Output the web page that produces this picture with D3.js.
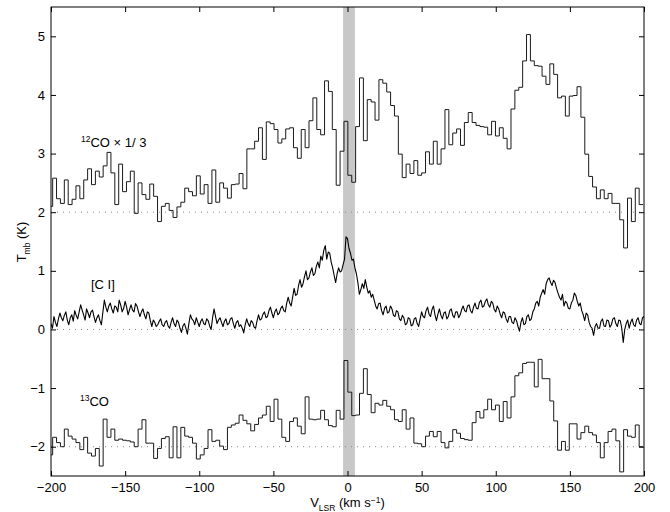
<!DOCTYPE html>
<html>
<head>
<meta charset="utf-8">
<script src="https://cdn.jsdelivr.net/npm/d3@7"></script>
<style>
  body { margin: 0; background: #fff; }
  svg text { font-family: "Liberation Sans", Arial, Helvetica, sans-serif; }
</style>
</head>
<body>
<div id="chart"></div>
<script>
"use strict";

// channel grid of the two CO spectra (km/s)
var coStart = -201.5;
var coStep = 2.62;

// 12CO x 1/3, shifted up by 2 K
var co12 = [2.1, 2.58, 2.23, 2.15, 2.55, 2.13, 2.22, 2.45, 2.23, 2.55,
  2.74, 2.47, 2.7, 2.6, 2.79, 3.02, 2.67, 2.13, 2.82, 2.35,
  2.52, 2.7, 1.98, 2.5, 2.3, 2.22, 2.48, 2.27, 1.84, 2.1,
  2.15, 2.03, 1.91, 2.09, 2.17, 2.41, 2.35, 2.28, 2.62, 2.31,
  2.47, 2.15, 2.72, 2.17, 2.5, 2.41, 2.24, 2.47, 2.48, 2.66,
  2.4, 3.08, 3.08, 3.21, 3.44, 2.9, 3.54, 3.51, 3.41, 3.18,
  3.25, 3.42, 3.44, 3.1, 2.92, 3.41, 3.1, 3.56, 3.95, 3.41,
  3.32, 4.24, 4.06, 3.41, 2.46, 3.04, 3.55, 2.63, 2.51, 3.46,
  4.29, 3.22, 3.92, 3.88, 3.57, 4.26, 4.2, 4.05, 3.82, 3.64,
  2.99, 2.59, 2.82, 2.66, 2.88, 2.63, 2.67, 3.03, 2.82, 3.21,
  2.82, 3.08, 3.75, 3.15, 3.35, 3.42, 3.14, 3.53, 3.7, 3.53,
  3.48, 3.46, 3.45, 3.32, 3.55, 3.3, 3.44, 3.26, 3.08, 3.76,
  4.08, 4.13, 4.58, 5.03, 4.58, 4.5, 4.49, 4.32, 4.18, 4.53,
  4.35, 3.95, 3.98, 3.64, 3.98, 3.99, 4.14, 3.62, 2.99, 2.61,
  2.43, 2.23, 2.38, 2.23, 2.32, 2.15, 2.15, 1.87, 1.39, 2.24,
  1.84, 2.41, 2.13];

// 13CO, shifted down by 2 K
var co13 = [-2.14, -1.84, -1.93, -2.0, -1.7, -1.82, -1.87, -1.93, -2.05, -1.84,
  -2.11, -2.16, -2.03, -2.33, -1.53, -1.84, -1.7, -1.89, -1.87, -1.89,
  -1.9, -1.92, -2.0, -1.7, -1.54, -1.94, -1.94, -2.2, -2.03, -1.86,
  -1.83, -2.19, -1.66, -2.19, -1.67, -1.82, -1.84, -1.94, -2.21, -2.14,
  -2.03, -1.71, -1.91, -1.89, -1.99, -2.05, -1.67, -1.63, -1.6, -1.46,
  -1.55, -1.61, -1.73, -1.62, -1.51, -1.46, -1.31, -1.57, -1.19, -1.53,
  -1.84, -1.91, -1.57, -1.51, -1.65, -1.78, -1.15, -1.53, -1.54, -1.53,
  -1.38, -1.54, -1.64, -1.66, -1.38, -1.53, -0.53,
  -1.07, -1.47, -1.46, -1.09, -0.67, -1.11, -1.42, -1.26, -1.29, -1.21,
  -1.31, -1.37, -1.54, -1.57, -1.37, -1.70, -1.51, -1.94, -1.95, -2.0,
  -1.82, -1.74, -1.83, -1.74, -1.93, -2.02, -1.91, -1.71, -1.77, -1.86,
  -1.88, -1.89, -1.59, -1.4, -1.51, -1.37, -1.19, -1.37, -1.29, -1.57,
  -1.23, -1.51, -1.15, -0.79, -0.74, -0.58, -0.56, -0.56, -0.98, -0.51,
  -0.84, -0.84, -1.22, -1.56, -2.06, -1.91, -2.06, -1.61, -1.61, -1.87,
  -1.76, -1.65, -1.76, -1.8, -1.93, -2.19, -1.93, -1.74, -1.7, -1.9,
  -2.43, -1.71, -1.82, -1.84, -1.63, -2.0];

// [C I], one value per km/s from -200 to 200
var ciStart = -200;
var ciStep = 1;
var ci = [
  0.10, 0.02, 0.22, 0.12, 0.05, 0.18, 0.28, 0.20, 0.15, 0.24,
  0.30, 0.16, 0.08, 0.20, 0.25, 0.14, 0.32, 0.24, 0.18, 0.30,
  0.42, 0.33, 0.25, 0.16, 0.35, 0.28, 0.20, 0.30, 0.33, 0.22,
  0.12, 0.20, 0.25, 0.15, 0.08, 0.30, 0.50, 0.38, 0.30, 0.40,
  0.45, 0.35, 0.28, 0.40, 0.38, 0.30, 0.50, 0.42, 0.30, 0.36,
  0.48, 0.38, 0.25, 0.34, 0.42, 0.33, 0.30, 0.44, 0.40, 0.30,
  0.22, 0.30, 0.35, 0.25, 0.18, 0.30, 0.28, 0.15, 0.05, 0.16,
  0.12, 0.05, 0.08, 0.14, 0.18, 0.08, 0.05, 0.12, 0.15, 0.06,
  0.02, 0.12, 0.20, 0.10, 0.05, 0.16, 0.12, 0.02, -0.05, 0.06,
  0.10, 0.02, -0.08, 0.10, 0.25, 0.18, 0.15, 0.08, 0.20, 0.12,
  0.05, 0.14, 0.18, 0.10, 0.08, 0.18, 0.15, 0.06, 0.00, 0.20,
  0.35, 0.22, 0.10, 0.16, 0.20, 0.12, 0.05, 0.14, 0.18, 0.08,
  0.10, 0.18, 0.20, 0.10, 0.02, 0.12, 0.15, 0.05, 0.08, 0.02,
  -0.06, 0.08, 0.18, 0.10, 0.05, 0.15, 0.12, 0.04, 0.02, 0.15,
  0.25, 0.16, 0.18, 0.26, 0.30, 0.20, 0.22, 0.32, 0.38, 0.28,
  0.20, 0.30, 0.35, 0.25, 0.28, 0.36, 0.40, 0.32, 0.30, 0.45,
  0.55, 0.45, 0.40, 0.55, 0.70, 0.58, 0.60, 0.75, 0.85, 0.72,
  0.78, 0.90, 1.00, 0.85, 0.88, 0.98, 1.05, 0.92, 0.95, 1.08,
  1.15, 1.05, 1.25, 1.18, 1.35, 1.43, 1.20, 1.32, 1.30, 1.15,
  1.05, 0.92, 0.80, 0.95, 1.05, 0.98, 1.00, 1.10, 1.20, 1.58,
  1.55, 1.38, 1.30, 1.18, 1.20, 1.05, 0.95, 0.80, 0.60, 0.68,
  0.78, 0.70, 0.85, 0.72, 0.62, 0.66, 0.55, 0.60, 0.50, 0.40,
  0.35, 0.44, 0.45, 0.32, 0.25, 0.36, 0.40, 0.28, 0.30, 0.40,
  0.35, 0.24, 0.22, 0.32, 0.30, 0.18, 0.15, 0.24, 0.20, 0.08,
  0.10, 0.20, 0.18, 0.06, 0.08, 0.18, 0.20, 0.10, 0.05, 0.18,
  0.30, 0.22, 0.20, 0.32, 0.38, 0.26, 0.22, 0.34, 0.40, 0.25,
  0.15, 0.26, 0.35, 0.24, 0.18, 0.28, 0.30, 0.18, 0.22, 0.32,
  0.35, 0.24, 0.20, 0.30, 0.30, 0.20, 0.25, 0.34, 0.40, 0.32,
  0.30, 0.40, 0.42, 0.32, 0.28, 0.38, 0.45, 0.36, 0.35, 0.46,
  0.50, 0.38, 0.40, 0.48, 0.52, 0.42, 0.38, 0.48, 0.45, 0.34,
  0.30, 0.40, 0.35, 0.26, 0.20, 0.30, 0.28, 0.18, 0.12, 0.22,
  0.22, 0.12, 0.10, 0.20, 0.15, 0.05, -0.03, 0.12, 0.20, 0.08,
  0.10, 0.22, 0.25, 0.15, 0.18, 0.30, 0.35, 0.45, 0.48, 0.40,
  0.55, 0.62, 0.68, 0.60, 0.78, 0.85, 0.88, 0.80, 0.75, 0.84,
  0.80, 0.70, 0.62, 0.55, 0.50, 0.60, 0.40, 0.48, 0.45, 0.36,
  0.35, 0.45, 0.50, 0.62, 0.58, 0.48, 0.40, 0.45, 0.32, 0.25,
  0.15, 0.28, 0.25, 0.12, 0.05, 0.02, -0.10, 0.05, 0.10, 0.02,
  0.02, 0.14, 0.18, 0.06, 0.05, 0.16, 0.15, 0.04, 0.08, 0.18,
  0.20, 0.10, 0.05, 0.16, 0.15, 0.02, -0.22, 0.00, 0.10, 0.16,
  0.02, 0.12, 0.18, 0.08, 0.05, 0.16, 0.20, 0.10, 0.08, 0.20,
  0.22];

var baselines = [2, 0, -2];
var band = [-3, 5];
var xTicks = [-200, -150, -100, -50, 0, 50, 100, 150, 200];
var yTicks = [-2, -1, 0, 1, 2, 3, 4, 5];

var width = 670, height = 512;
var pLeft = 51, pRight = 644, pTop = 7, pBottom = 476;

var svg = d3.select("#chart").append("svg")
  .attr("width", width)
  .attr("height", height);

var x = d3.scaleLinear().domain([-200, 200]).range([pLeft, pRight]);
var y = d3.scaleLinear().domain([-2.5, 5.5]).range([pBottom, pTop]);

svg.append("clipPath").attr("id", "clip")
  .append("rect")
  .attr("x", pLeft).attr("y", pTop)
  .attr("width", pRight - pLeft).attr("height", pBottom - pTop);

// grey velocity band
svg.append("rect")
  .attr("x", x(band[0]))
  .attr("y", pTop)
  .attr("width", x(band[1]) - x(band[0]))
  .attr("height", pBottom - pTop)
  .attr("fill", "#c8c8c8");

// dotted baselines
svg.selectAll(".base")
  .data(baselines)
  .enter()
  .append("line")
  .attr("class", "base")
  .attr("x1", pLeft).attr("x2", pRight)
  .attr("y1", function (d) { return y(d); })
  .attr("y2", function (d) { return y(d); })
  .attr("stroke", "#8a8a8a")
  .attr("stroke-width", 1)
  .attr("stroke-dasharray", "1,5");

// step spectra: one point per channel left edge + closing point
var stepPoints = function (vals) {
  var pts = vals.map(function (v, i) { return [coStart + i * coStep, v]; });
  pts.push([coStart + vals.length * coStep, vals[vals.length - 1]]);
  return pts;
};

var stepLine = d3.line()
  .x(function (d) { return x(d[0]); })
  .y(function (d) { return y(d[1]); })
  .curve(d3.curveStepAfter);

var plain = d3.line()
  .x(function (d) { return x(d[0]); })
  .y(function (d) { return y(d[1]); });

var g = svg.append("g").attr("clip-path", "url(#clip)");

g.append("path")
  .attr("d", stepLine(stepPoints(co12)))
  .attr("fill", "none")
  .attr("stroke", "#1a1a1a")
  .attr("stroke-width", 1);

g.append("path")
  .attr("d", stepLine(stepPoints(co13)))
  .attr("fill", "none")
  .attr("stroke", "#1a1a1a")
  .attr("stroke-width", 1);

g.append("path")
  .attr("d", plain(ci.map(function (v, i) { return [ciStart + i * ciStep, v]; })))
  .attr("fill", "none")
  .attr("stroke", "#000")
  .attr("stroke-width", 1.1)
  .attr("stroke-linejoin", "round");

// axes, ticks pointing inwards on all four sides
var styleAxis = function (sel) {
  sel.select(".domain").remove();
  sel.selectAll(".tick line").attr("stroke", "#000");
  sel.selectAll(".tick text")
    .attr("fill", "#000")
    .style("font-size", "13px")
    .style("font-family", "'Liberation Sans', Arial, sans-serif");
};

svg.append("g")
  .attr("transform", "translate(0," + pBottom + ")")
  .call(d3.axisBottom(x).tickValues(xTicks).tickSize(-5).tickPadding(7))
  .call(styleAxis);

svg.append("g")
  .attr("transform", "translate(0," + pTop + ")")
  .call(d3.axisTop(x).tickValues(xTicks).tickSize(-5).tickFormat(""))
  .call(styleAxis);

svg.append("g")
  .attr("transform", "translate(" + pLeft + ",0)")
  .call(d3.axisLeft(y).tickValues(yTicks).tickSize(-5).tickPadding(6))
  .call(styleAxis);

svg.append("g")
  .attr("transform", "translate(" + pRight + ",0)")
  .call(d3.axisRight(y).tickValues(yTicks).tickSize(-5).tickFormat(""))
  .call(styleAxis);

// frame
svg.append("rect")
  .attr("x", pLeft).attr("y", pTop)
  .attr("width", pRight - pLeft).attr("height", pBottom - pTop)
  .attr("fill", "none")
  .attr("stroke", "#000")
  .attr("stroke-width", 1);

// spectrum labels
var lab12 = svg.append("text").attr("x", 81).attr("y", 147).style("font-size", "13px");
lab12.append("tspan").text("12").style("font-size", "8.5px").attr("dy", -5);
lab12.append("tspan").text("CO \u00d7 1/ 3").attr("dy", 5);

svg.append("text").attr("x", 91).attr("y", 289).style("font-size", "13px").text("[C I]");

var lab13 = svg.append("text").attr("x", 80).attr("y", 406).style("font-size", "13px");
lab13.append("tspan").text("13").style("font-size", "8.5px").attr("dy", -5);
lab13.append("tspan").text("CO").attr("dy", 5);

// axis titles
var xt = svg.append("text")
  .attr("x", (pLeft + pRight) / 2).attr("y", 507)
  .attr("text-anchor", "middle")
  .style("font-size", "13px");
xt.append("tspan").text("V");
xt.append("tspan").text("LSR").style("font-size", "8.5px").attr("dy", 4);
xt.append("tspan").text(" (km s").attr("dy", -4);
xt.append("tspan").text("\u22121").style("font-size", "8.5px").attr("dy", -4);
xt.append("tspan").text(")").attr("dy", 4);

var yt = svg.append("text")
  .attr("transform", "translate(26,242) rotate(-90)")
  .attr("text-anchor", "middle")
  .style("font-size", "13px");
yt.append("tspan").text("T");
yt.append("tspan").text("mb").style("font-size", "8.5px").attr("dy", 4);
yt.append("tspan").text(" (K)").attr("dy", -4);
</script>
</body>
</html>
